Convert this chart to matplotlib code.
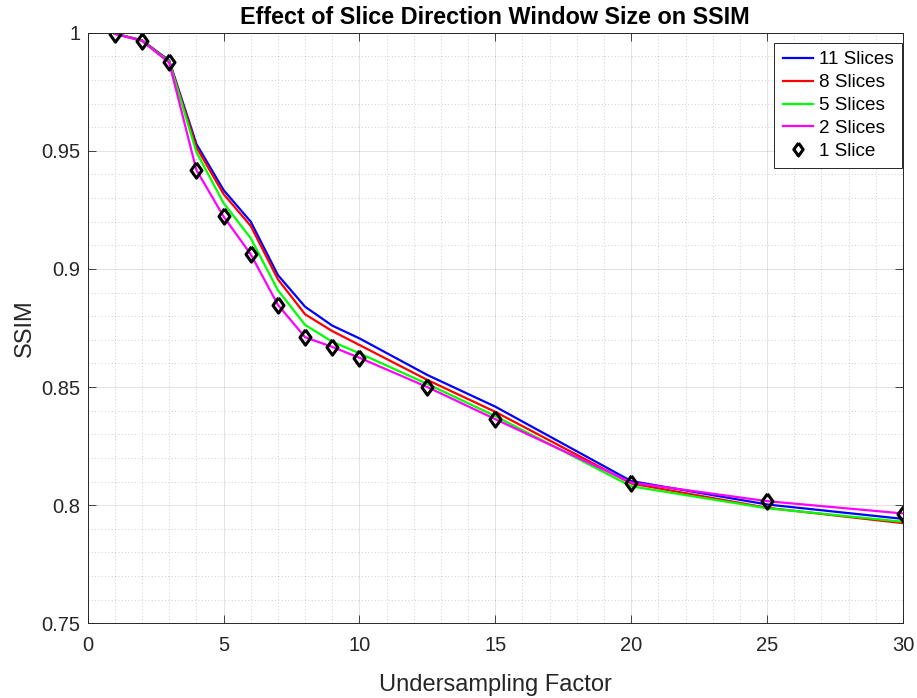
import numpy as np
import matplotlib
matplotlib.use("Agg")
import matplotlib.pyplot as plt
from matplotlib.ticker import MultipleLocator

plt.rcParams['font.family'] = ['Liberation Sans', 'DejaVu Sans']

factors = [1, 2, 3, 4, 5, 6, 7, 8, 9, 10, 12.5, 15, 20, 25, 30]
ssim_11 = [0.9996, 0.9968, 0.9882, 0.9529, 0.9334, 0.9200, 0.8974, 0.8840,
           0.8760, 0.8706, 0.8551, 0.8417, 0.8102, 0.8003, 0.7942]
ssim_8 = [0.9995, 0.9967, 0.9879, 0.9515, 0.9317, 0.9182, 0.8956, 0.8808,
          0.8737, 0.8678, 0.8530, 0.8395, 0.8092, 0.7989, 0.7924]
ssim_5 = [0.9995, 0.9966, 0.9877, 0.9495, 0.9279, 0.9130, 0.8910, 0.8763,
          0.8692, 0.8643, 0.8513, 0.8377, 0.8080, 0.7987, 0.7930]
ssim_2 = [0.9995, 0.9965, 0.9873, 0.9419, 0.9222, 0.9062, 0.8848, 0.8711,
          0.8670, 0.8624, 0.8500, 0.8364, 0.8096, 0.8017, 0.7965]
ssim_1 = [0.9995, 0.9965, 0.9874, 0.9419, 0.9222, 0.9062, 0.8848, 0.8711,
          0.8670, 0.8624, 0.8500, 0.8364, 0.8095, 0.8017, 0.7963]

labels = ['11 Slices', '8 Slices', '5 Slices', '2 Slices', '1 Slice']
colors = ['#0000ff', '#ff0000', '#00ff00', '#ff00ff']

dark = '#262626'
# slightly squat diamond, closer to the MATLAB 'd' marker
diamond = [(0, 1), (0.72, 0), (0, -1), (-0.72, 0), (0, 1)]

fig = plt.figure(figsize=(9.17, 6.98), dpi=100)
ax = fig.add_axes([0.0956, 0.107, 0.8891, 0.8462])

for y, c, lab in zip([ssim_11, ssim_8, ssim_5, ssim_2], colors, labels[:4]):
    ax.plot(factors, y, color=c, lw=1.6, label=lab)
ax.plot(factors, ssim_1, ls='none', marker=diamond, ms=11, mfc='none',
        mec='black', mew=2.2, label=labels[4])

ax.set_xlim(0, 30)
ax.set_ylim(0.75, 1.0)
ax.xaxis.set_major_locator(MultipleLocator(5))
ax.xaxis.set_minor_locator(MultipleLocator(1))
ax.set_yticks([0.75, 0.8, 0.85, 0.9, 0.95, 1.0])
ax.set_yticklabels(['0.75', '0.8', '0.85', '0.9', '0.95', '1'])
ax.yaxis.set_minor_locator(MultipleLocator(0.01))

ax.grid(which='major', color=dark, alpha=0.15, lw=0.6)
ax.grid(which='minor', color=dark, alpha=0.3, lw=0.6, ls=(0, (1, 3)))
ax.set_axisbelow(True)

ax.tick_params(which='major', direction='in', length=6, width=0.6,
               top=True, right=True, colors=dark, labelsize=14.5, pad=9)
ax.tick_params(axis='y', pad=5)
ax.tick_params(which='minor', length=0)
for s in ax.spines.values():
    s.set_color(dark)
    s.set_linewidth(0.7)

ax.set_title('Effect of Slice Direction Window Size on SSIM', fontsize=16.8,
             fontweight='bold', pad=6)
ax.set_xlabel('Undersampling Factor', fontsize=17, color=dark, labelpad=14)
ax.set_ylabel('SSIM', fontsize=17, color=dark, labelpad=4)

leg = ax.legend(loc='upper right', bbox_to_anchor=(0.9988, 0.983),
                borderaxespad=0, fontsize=13.6, handlelength=1.6,
                handletextpad=0.3, labelspacing=0.3, borderpad=0.45,
                fancybox=False, framealpha=1, edgecolor=dark, markerscale=0.85)
leg.get_frame().set_linewidth(0.7)

fig.savefig('out.png', dpi=100)
